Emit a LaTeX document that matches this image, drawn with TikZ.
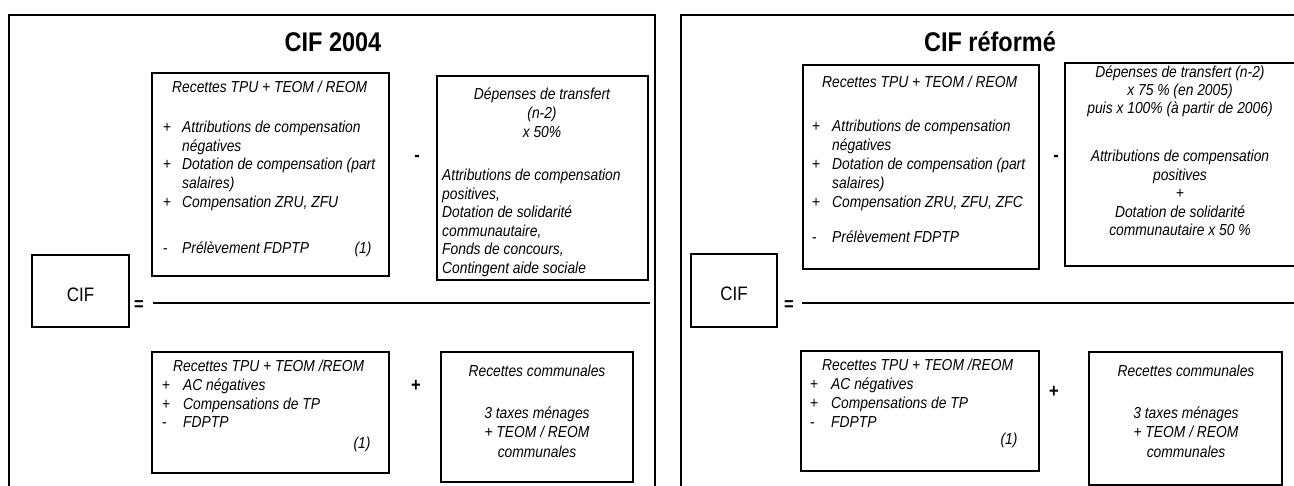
\documentclass[tikz,border=0pt]{standalone}
\usepackage{fontspec}
\setmainfont[FakeStretch=0.87]{Liberation Sans}
\begin{document}
\begin{tikzpicture}[x=1pt,y=-1pt,
  frame/.style={line width=1.6pt},
  box/.style={draw, line width=1.2pt, inner sep=0pt, rectangle},
  txt/.style={inner sep=0pt, anchor=base west, font=\itshape\fontsize{15.9}{18.6}\selectfont},
  bul/.style={txt, font=\upshape\fontsize{15.9}{18.6}\selectfont},
  ctxt/.style={txt, anchor=base},
  ttl/.style={inner sep=0pt, anchor=base, font=\bfseries\fontsize{27}{30}\selectfont},
  op/.style={inner sep=0pt, font=\bfseries\fontsize{19}{22}\selectfont},
  eqs/.style={inner sep=0pt, font=\bfseries\fontsize{19}{22}\selectfont},
  cif/.style={inner sep=0pt, anchor=base, font=\fontsize{19.5}{22}\selectfont},
  frac/.style={line width=2.4pt}]
\useasboundingbox (0,0) rectangle (1294,486);
\fill[white] (0,0) rectangle (1294,486);

% ===================== Left panel =====================
\draw[frame] (9,492) -- (9,15) -- (655,15) -- (655,492);
\node[ttl] (t1) at (333,52) {CIF 2004};

\node[box, minimum width=237pt, minimum height=203pt] (A1) at (270.5,174.5) {};
\node[txt] (a1r) at (172,93) {Recettes TPU + TEOM / REOM};
\node[bul] (a1b1) at (163,133) {+};
\node[txt] (a1l1) at (182,133) {Attributions de compensation};
\node[txt] (a1l2) at (182,152) {négatives};
\node[bul] (a1b2) at (163,170) {+};
\node[txt] (a1l3) at (182,170) {Dotation de compensation (part};
\node[txt] (a1l4) at (182,189) {salaires)};
\node[bul] (a1b3) at (163,208) {+};
\node[txt] (a1l5) at (182,208) {Compensation ZRU, ZFU};
\node[bul] (a1b4) at (163,254) {-};
\node[txt] (a1l6) at (182,254) {Prélèvement FDPTP};
\node[ctxt] (a1n) at (363,254) {(1)};

\node[op] (m1) at (417,158) {-};

\node[box, minimum width=211pt, minimum height=204pt] (B1) at (542.5,178) {};
\node[ctxt] (b1l1) at (542,100) {Dépenses de transfert};
\node[ctxt] (b1l2) at (542,119) {(n-2)};
\node[ctxt] (b1l3) at (542,138) {x 50\%};
\node[txt] (b1l4) at (442,181) {Attributions de compensation};
\node[txt] (b1l5) at (442,199.5) {positives,};
\node[txt] (b1l6) at (442,218) {Dotation de solidarité};
\node[txt] (b1l7) at (442,236.5) {communautaire,};
\node[txt] (b1l8) at (442,255) {Fonds de concours,};
\node[txt] (b1l9) at (442,273.5) {Contingent aide sociale};

\node[box, minimum width=97pt, minimum height=72pt] (K1) at (80.5,291) {};
\node[cif] (k1) at (80.5,302) {CIF};
\node[eqs] (e1) at (139,306) {=};
\coordinate (f1a) at (153,303);
\coordinate (f1b) at (650,303);
\draw[frac] (f1a) -- (f1b);

\node[box, minimum width=237pt, minimum height=121pt] (C1) at (270.5,412.5) {};
\node[txt] (c1r) at (173,372) {Recettes TPU + TEOM /REOM};
\node[bul] (c1b1) at (162,390.6) {+};
\node[txt] (c1l1) at (183,390.6) {AC négatives};
\node[bul] (c1b2) at (162,409.2) {+};
\node[txt] (c1l2) at (183,409.2) {Compensations de TP};
\node[bul] (c1b3) at (162,427.8) {-};
\node[txt] (c1l3) at (183,427.8) {FDPTP};
\node[ctxt] (c1n) at (362,448) {(1)};

\node[op] (p1) at (416,386) {+};

\node[box, minimum width=192pt, minimum height=130pt] (D1) at (537,417) {};
\node[ctxt] (d1l1) at (537,377) {Recettes communales};
\node[ctxt] (d1l2) at (537,419) {3 taxes ménages};
\node[ctxt] (d1l3) at (537,438) {+ TEOM / REOM};
\node[ctxt] (d1l4) at (537,457) {communales};

% ===================== Right panel =====================
\draw[frame] (681,492) -- (681,15) -- (1300,15);
\node[ttl] (t2) at (990,52) {CIF réformé};

\node[box, minimum width=236pt, minimum height=204pt] (A2) at (921,167) {};
\node[txt] (a2r) at (822,88) {Recettes TPU + TEOM / REOM};
\node[bul] (a2b1) at (812,132) {+};
\node[txt] (a2l1) at (832,132) {Attributions de compensation};
\node[txt] (a2l2) at (832,151) {négatives};
\node[bul] (a2b2) at (812,170) {+};
\node[txt] (a2l3) at (832,170) {Dotation de compensation (part};
\node[txt] (a2l4) at (832,189) {salaires)};
\node[bul] (a2b3) at (812,208) {+};
\node[txt] (a2l5) at (832,208) {Compensation ZRU, ZFU, ZFC};
\node[bul] (a2b4) at (812,243) {-};
\node[txt] (a2l6) at (832,243) {Prélèvement FDPTP};

\node[op] (m2) at (1056,158) {-};

\node[box, minimum width=245pt, minimum height=203pt] (B2) at (1187.5,164.5) {};
\node[ctxt] (b2l1) at (1180,78) {Dépenses de transfert (n-2)};
\node[ctxt] (b2l2) at (1180,96) {x 75 \% (en 2005)};
\node[ctxt] (b2l3) at (1180,114) {puis x 100\% (à partir de 2006)};
\node[ctxt] (b2l4) at (1180,162) {Attributions de compensation};
\node[ctxt] (b2l5) at (1180,180.5) {positives};
\node[ctxt] (b2l6) at (1180,199) {+};
\node[ctxt] (b2l7) at (1180,217.5) {Dotation de solidarité};
\node[ctxt] (b2l8) at (1180,236) {communautaire x 50 \%};

\node[box, minimum width=86pt, minimum height=73pt] (K2) at (734,290.5) {};
\node[cif] (k2) at (734,301) {CIF};
\node[eqs] (e2) at (789,306) {=};
\coordinate (f2a) at (802,303);
\coordinate (f2b) at (1300,303);
\draw[frac] (f2a) -- (f2b);

\node[box, minimum width=238pt, minimum height=120pt] (C2) at (920,411) {};
\node[txt] (c2r) at (822,371) {Recettes TPU + TEOM /REOM};
\node[bul] (c2b1) at (810,390) {+};
\node[txt] (c2l1) at (831,390) {AC négatives};
\node[bul] (c2b2) at (810,409) {+};
\node[txt] (c2l2) at (831,409) {Compensations de TP};
\node[bul] (c2b3) at (810,427.5) {-};
\node[txt] (c2l3) at (831,427.5) {FDPTP};
\node[ctxt] (c2n) at (1009,444) {(1)};

\node[op] (p2) at (1054,392) {+};

\node[box, minimum width=193pt, minimum height=133pt] (D2) at (1185.5,418.5) {};
\node[ctxt] (d2l1) at (1186,377) {Recettes communales};
\node[ctxt] (d2l2) at (1186,419) {3 taxes ménages};
\node[ctxt] (d2l3) at (1186,438) {+ TEOM / REOM};
\node[ctxt] (d2l4) at (1186,457) {communales};
\end{tikzpicture}
\end{document}
